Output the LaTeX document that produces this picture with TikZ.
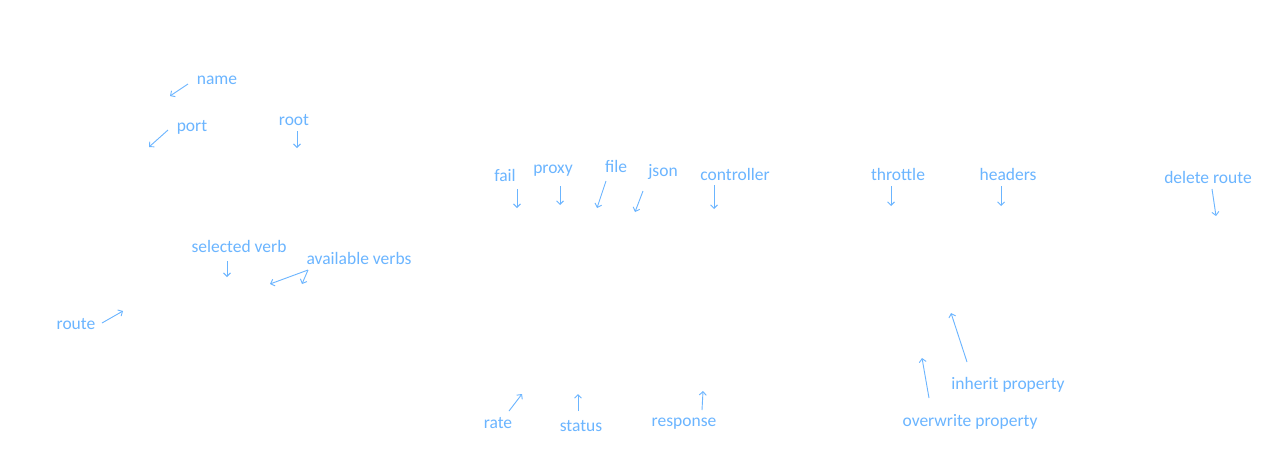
\documentclass[tikz,border=0pt]{standalone}
\usepackage{fontspec}
\setmainfont{Carlito}
\usepackage{xcolor}
\definecolor{hint}{rgb}{0.42, 0.71, 1.00}
\usepackage{tikz}
\usetikzlibrary{arrows.meta}

\begin{document}
\begin{tikzpicture}[x=1pt, y=-1pt, every node/.style={scale=1}]
    \tikzstyle{note}=[ %
%     draw, rectangle,
      text=hint,
      font=\fontsize{17.5}{20}\selectfont,
      inner sep=0, outer sep=0, yshift=-2pt
    ]
    \tikzstyle{hintarrow}=[
      draw=hint, line width=0.9pt,
      -{Straight Barb[length=3.5pt,width=7pt]}
    ]
    \fill[white] (0,0) rectangle (1281,475);
    \useasboundingbox (0,0) rectangle (1281,475);
  %  \draw[help lines] (0,0) grid[step=50] (1281,475);
    % left part
    \path (217,78)  node(name) [note] {name}
          (192,125) node(port) [note] {port}
          (294,118) node(root) [note] {root}
          (239,244) node(sel)  [note] {selected verb}
          (359,256) node(avail) [note] {available verbs}
          (76,322)  node(route) [note] {route};
    % middle part
    \path (505,173) node(fail)  [note] {fail}
          (553,169) node(proxy) [note] {proxy}
          (616,164) node(file)  [note] {file}
          (663,170) node(json)  [note] {json}
          (735,172) node(ctrl)  [note] {controller}
          (498,421) node(rate)  [note] {rate}
          (581,424) node(status) [note] {status}
          (684,422) node(resp)  [note] {response};
    % right part
    \path (898,172)  node(throttle) [note] {throttle}
          (1008,172) node(headers)  [note] {headers}
          (1208,175) node(delete)   [note] {delete route}
          (1008,383) node(inherit)  [note] {inherit property}
          (970,420)  node(overwrite) [note] {overwrite property};
    % arrow ends
    \coordinate (name-a) at (188,84);   \coordinate (name-b) at (170,96);
    \coordinate (port-a) at (168,130);  \coordinate (port-b) at (149,147);
    \coordinate (root-a) at (297,131);  \coordinate (root-b) at (297,148);
    \coordinate (sel-a) at (227,261);   \coordinate (sel-b) at (227,277);
    \coordinate (avail-a) at (308,270); \coordinate (avail-b) at (270,284);
    \coordinate (avail-c) at (302,284);
    \coordinate (route-a) at (102,323); \coordinate (route-b) at (123,311);
    \coordinate (fail-a) at (517,189);  \coordinate (fail-b) at (517,208);
    \coordinate (proxy-a) at (560,186); \coordinate (proxy-b) at (560,205);
    \coordinate (file-a) at (606,181);  \coordinate (file-b) at (597,208);
    \coordinate (json-a) at (643,191);  \coordinate (json-b) at (635,212);
    \coordinate (ctrl-a) at (714,185);  \coordinate (ctrl-b) at (714,209);
    \coordinate (rate-a) at (509,411);  \coordinate (rate-b) at (522,394);
    \coordinate (status-a) at (578,411); \coordinate (status-b) at (578,394);
    \coordinate (resp-a) at (702,410);  \coordinate (resp-b) at (703,391);
    \coordinate (throttle-a) at (891,186); \coordinate (throttle-b) at (891,206);
    \coordinate (headers-a) at (1001,186); \coordinate (headers-b) at (1001,206);
    \coordinate (delete-a) at (1212,189);  \coordinate (delete-b) at (1216,216);
    \coordinate (inherit-a) at (967,362);  \coordinate (inherit-b) at (951,313);
    \coordinate (overwrite-a) at (929,398); \coordinate (overwrite-b) at (922,358);
    \foreach \n in {name,port,root,sel,avail,route,fail,proxy,file,json,ctrl,
                    rate,status,resp,throttle,headers,delete,inherit,overwrite}
      \draw[hintarrow] (\n-a) -- (\n-b);
    \draw[hintarrow] (avail-a) -- (avail-c);
  \end{tikzpicture}
\end{document}
